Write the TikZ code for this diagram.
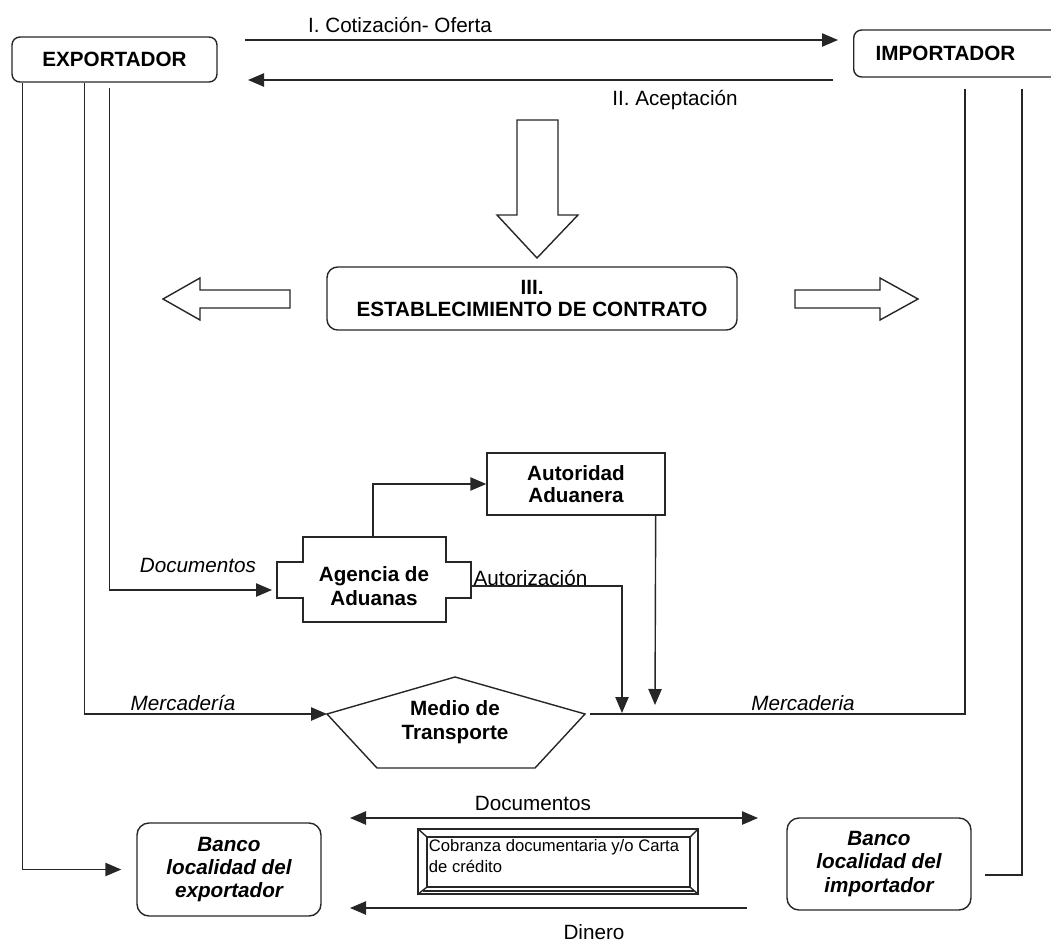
\documentclass[tikz,border=0pt]{standalone}
\usepackage{fontspec}
\setmainfont{Liberation Sans}
\usetikzlibrary{arrows.meta}
\begin{document}
\begin{tikzpicture}[x=0.75pt,y=-0.75pt]
\tikzset{
  ln/.style={draw=black!85, line width=1.05pt},
  arr/.style={ln, -{Triangle[length=12pt,width=10pt]}},
  darr/.style={ln, {Triangle[length=12pt,width=10pt]}-{Triangle[length=12pt,width=10pt]}},
  rbox/.style={ln, rounded corners=6pt, align=center, inner sep=0pt, font=\bfseries\fontsize{15.5pt}{17pt}\selectfont},
  sbox/.style={ln, align=center, inner sep=0pt, font=\bfseries\fontsize{15.5pt}{17pt}\selectfont},
  btext/.style={align=center, inner sep=0pt, font=\bfseries\fontsize{15.5pt}{17.5pt}\selectfont},
  ibox/.style={ln, rounded corners=9pt, align=center, inner sep=0pt, font=\bfseries\itshape\fontsize{15.5pt}{17.5pt}\selectfont},
  lbl/.style={inner sep=1pt, font=\fontsize{15.5pt}{17pt}\selectfont},
  ilbl/.style={inner sep=1pt, font=\itshape\fontsize{15.5pt}{17pt}\selectfont},
  hollow/.style={ln, fill=white, line join=miter},
}
\useasboundingbox (0,0) rectangle (1051,943);
\clip (0,0) rectangle (1051,943);

% main boxes
\node[rbox, minimum width=153.75pt, minimum height=33.75pt] (exp) at (114.5,59.5) {EXPORTADOR};
\node[rbox, anchor=west, minimum height=35.25pt, text width=170pt, align=left, inner xsep=16.5pt] (imp) at (853,53.5) {IMPORTADOR};

% I / II arrows
\coordinate (c1s) at (245,40);
\coordinate (c1e) at (838,40);
\coordinate (c2s) at (833,80);
\coordinate (c2e) at (248,80);
\draw[arr] (c1s) -- (c1e);
\draw[arr] (c2s) -- (c2e);
\node[lbl] (l1) at (400,25) {I. Cotización- Oferta};
\node[lbl] (l2) at (675,100) {II. Aceptación};

% hollow arrows
\draw[hollow] (517,120) -- (558,120) -- (558,215) -- (578,215) -- (537,258) -- (497,215) -- (517,215) -- cycle;
\draw[hollow] (290,290) -- (200,290) -- (200,278) -- (163,299) -- (200,320) -- (200,308) -- (290,308) -- cycle;
\draw[hollow] (795,290) -- (880,290) -- (880,278) -- (918,299) -- (880,320) -- (880,308) -- (795,308) -- cycle;

% contract
\node[rbox, rounded corners=8pt, minimum width=307.5pt, minimum height=47.25pt] (con) at (532,298.5) {III.\\ESTABLECIMIENTO DE CONTRATO};

% Autoridad
\node[sbox, minimum width=133.5pt, minimum height=46.5pt] (aut) at (576,484) {Autoridad\\Aduanera};

% Agencia (cross shape)
\draw[ln] (303,537) -- (446,537) -- (446,562) -- (471,562) -- (471,598) -- (446,598) -- (446,622) -- (303,622) -- (303,598) -- (277,598) -- (277,562) -- (303,562) -- cycle;
\node[btext] (ag) at (374,586) {Agencia de\\Aduanas};
\coordinate (agT) at (373,537);
\coordinate (agR) at (471,586);
\coordinate (agL) at (272,590);

% Medio de transporte (pentagon)
\draw[ln] (455,677) -- (585,714) -- (535,768) -- (377,768) -- (327,714) -- cycle;
\node[btext] (mt) at (455,722) {Medio de\\Transporte};
\coordinate (mtL) at (327,714);
\coordinate (mtR) at (590,714);

% banks
\node[ibox, minimum width=138pt, minimum height=69.75pt] (bexp) at (229,869.5) {Banco\\localidad del\\exportador};
\node[ibox, minimum width=138pt, minimum height=69pt] (bimp) at (879,864) {Banco\\localidad del\\importador};

% cobranza frame
\node[ln, minimum width=210pt, minimum height=48.75pt, inner sep=0pt] (cob) at (558,861.5) {};
\draw[ln] (427,837) rectangle (690,887);
\draw[ln] (cob.north west) -- (427,837);
\draw[ln] (cob.north east) -- (690,837);
\draw[ln] (cob.south west) -- (427,887);
\draw[ln] (cob.south east) -- (690,887);
\draw[ln, line width=2pt] (423,891) -- (694,891);
\node[anchor=north west, align=left, inner sep=0.5pt, font=\fontsize{12.5pt}{16pt}\selectfont] (cobt) at (428,838) {Cobranza documentaria y/o Carta\\de crédito};

% exportador lines
\draw[arr] ([xshift=8.25pt]exp.south west) |- ([xshift=-11.25pt]bexp.west);
\draw[arr] ([xshift=54.75pt]exp.south west) |- (mtL);
\draw[arr] ([shift={(73.5pt,-3.75pt)}]exp.south west) |- (agL);
\node[ilbl] (ldoc) at (198,565) {Documentos};
\node[ilbl] (lmer1) at (183,703) {Mercadería};

% importador lines
\coordinate (bimpEnd) at (985,875);
\draw[ln] ([shift={(84pt,-8.25pt)}]imp.south west) |- (mtR);
\draw[ln] ([shift={(126.75pt,-8.25pt)}]imp.south west) |- (bimpEnd);
\node[ilbl] (lmer2) at (803,703) {Mercaderia};

% customs connectors
\draw[arr] (agT) |- (aut.west);
\coordinate (autzEnd) at (622,713);
\draw[arr] (agR) -| (autzEnd);
\node[lbl, anchor=south west] (lautz) at (472,587) {Autorización};
\coordinate (autEnd) at (655,705);
\draw[arr] ([xshift=-7.5pt]aut.south east) -- (autEnd);

% bottom arrows
\coordinate (d1) at (350,818);
\coordinate (d2) at (758,818);
\draw[darr] (d1) -- (d2);
\node[lbl] (ldocs) at (533,803) {Documentos};
\coordinate (m1) at (747,908);
\coordinate (m2) at (350,908);
\draw[arr] (m1) -- (m2);
\node[lbl] (ldin) at (594,932) {Dinero};
\end{tikzpicture}
\end{document}
